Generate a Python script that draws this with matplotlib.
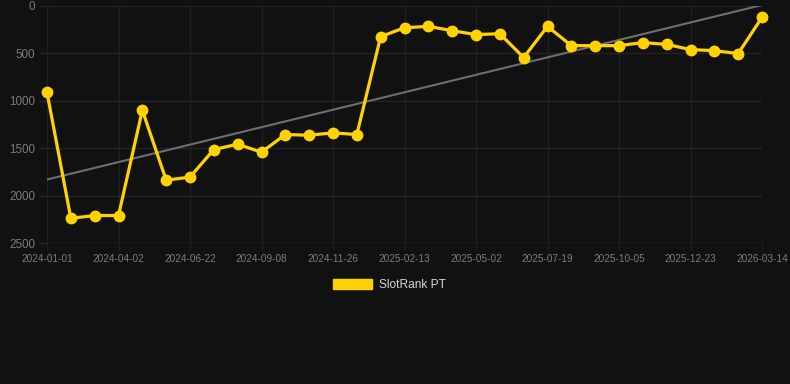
import numpy as np
import matplotlib
matplotlib.use("Agg")
import matplotlib.pyplot as plt
from matplotlib.patches import Patch

plt.rcParams['font.family'] = ['Liberation Sans', 'DejaVu Sans']

# Data (rank values, lower is better; y axis inverted)
rank_values = [910, 2240, 2210, 2210, 1100, 1837, 1805, 1514, 1458, 1542,
               1356, 1363, 1338, 1356, 323, 229, 215, 260, 302, 292,
               544, 215, 418, 418, 418, 386, 405, 460, 471, 502, 120]
tick_labels = ["2024-01-01", "2024-04-02", "2024-06-22", "2024-09-08", "2024-11-26",
               "2025-02-13", "2025-05-02", "2025-07-19", "2025-10-05", "2025-12-23",
               "2026-03-14"]
series_name = "SlotRank PT"
y_ticks = [0, 500, 1000, 1500, 2000, 2500]

BG = "#111111"
GOLD = "#FFD200"
GRID = "#1f1f1f"
W, H = 790, 384
fig = plt.figure(figsize=(W / 100, H / 100), dpi=100, facecolor=BG)
left, right, top, bottom = 47, 762, 6, 243
ax = fig.add_axes([left / W, 1 - bottom / H, (right - left) / W, (bottom - top) / H])
ax.set_facecolor(BG)

x = np.arange(len(rank_values))
y = np.array(rank_values, dtype=float)

# Grid
for s in ax.spines.values():
    s.set_visible(False)
ax.grid(True, axis="x", color=GRID, linewidth=1.0)
ax.grid(True, axis="y", color="#232323", linewidth=1.0)
ax.set_axisbelow(True)
ax.axhline(2500, color="#2c2c2c", linewidth=1.0, zorder=1)

# Trend line (least squares on the data)
coef = np.polyfit(x, y, 1)
ax.plot(x, np.polyval(coef, x), color="#6e6e6e", linewidth=1.5, zorder=2)

# Series
ax.plot(x, y, color=GOLD, linewidth=2.3, marker="o", markersize=7.5,
        markerfacecolor=GOLD, markeredgecolor=GOLD, zorder=3, clip_on=False)

tick_pos = x[::3]
ax.set_xticks(tick_pos)
ax.set_xticklabels(tick_labels)
ax.set_yticks(y_ticks)
ax.set_xlim(0, len(rank_values) - 1)
ax.set_ylim(2500, 0)

ax.tick_params(axis="x", colors=GRID, labelcolor="#7c7c7c", labelsize=7.2,
               length=5, width=1.0, pad=3)
ax.tick_params(axis="y", colors="#232323", labelcolor="#7c7c7c", labelsize=8.4,
               length=6, width=1.0, pad=2.5)

# Legend
handle = Patch(facecolor=GOLD, edgecolor=GOLD)
fig.legend([handle], [series_name], loc="center",
           bbox_to_anchor=(389.5 / W, 1 - 285 / H), frameon=False,
           fontsize=8.6, labelcolor="#d8d8d8", handlelength=3.3,
           handleheight=0.9, handletextpad=0.55, borderpad=0)

fig.savefig("out.png", dpi=100, facecolor=BG)
